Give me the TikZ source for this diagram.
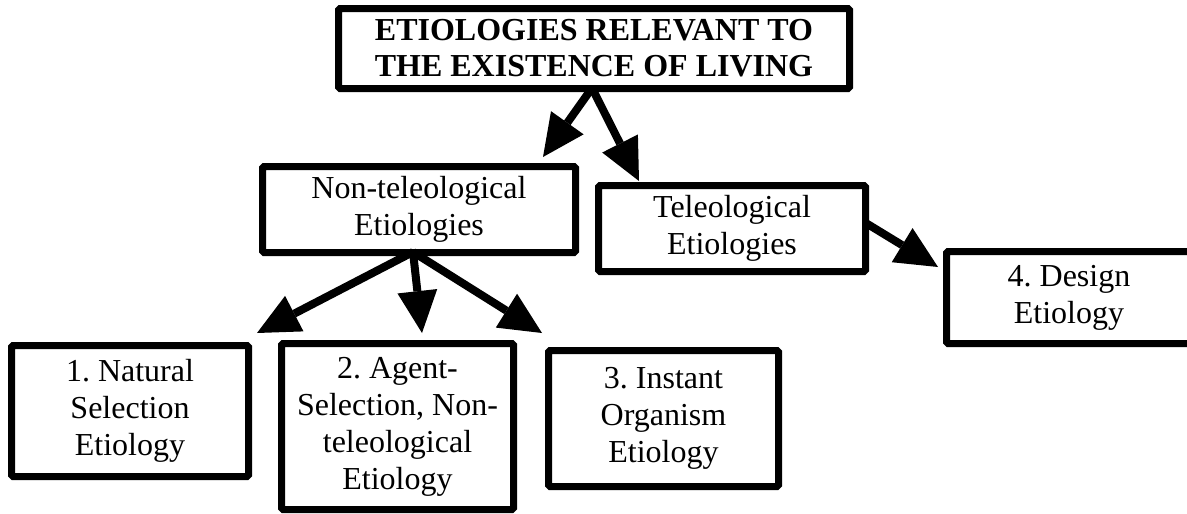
\documentclass[tikz,border=0pt]{standalone}
\usepackage{fontspec}
\setmainfont{Liberation Serif}
\usetikzlibrary{
  arrows.meta,
  positioning,
  calc
}
\definecolor{ink}{HTML}{000000}
\tikzset{
  base/.style={
    text=ink,
    font=\fontsize{32}{37}\selectfont\frenchspacing,
    align=center,
    inner sep=4pt,
  },
  etbox/.style={
    base,
    draw=ink,
    fill=white,
    line width=7pt,
    rounded corners=1.5pt,
    minimum width=#1,
  },
  etbox/.default=230pt,
  title/.style={
    etbox=511pt,
    font=\fontsize{32}{36}\selectfont\bfseries,
    minimum height=80pt,
  },
  flow/.style={
    -{Triangle[length=42pt, width=40pt, line width=0pt]},
    line width=8pt,
    draw=ink,
  },
}

\begin{document}
\begin{tikzpicture}[x=1pt, y=1pt]
\useasboundingbox (0,0) rectangle (1187,-514);

% === TOP: title ===

\node[title]
  (top) at (594,-48.5) {ETIOLOGIES RELEVANT TO\\THE EXISTENCE OF LIVING};

% === ROW 2: the two kinds ===

\node[etbox=313pt, minimum height=86pt, below=71pt of top, xshift=-175pt]
  (nontel) {Non-teleological\\Etiologies};

\node[etbox=267pt, minimum height=86pt, right=16pt of nontel, yshift=-19pt]
  (tel) {Teleological\\Etiologies};

\node[etbox=245pt, minimum height=92pt, right=74pt of tel, yshift=-69pt]
  (design) {4. Design\\Etiology};

% === ROW 3: non-teleological etiologies ===

\node[etbox=237pt, minimum height=131pt, below=86pt of nontel, xshift=-289pt]
  (natural) {1. Natural\\Selection\\Etiology};

\node[etbox=232pt, minimum height=166pt, right=26pt of natural, yshift=-15.5pt]
  (agent) {2. Agent-\\Selection, Non-\\teleological\\Etiology};

\node[etbox=230pt, minimum height=136pt, right=28pt of agent, yshift=8pt]
  (instant) {3. Instant\\Organism\\Etiology};

% Fan-out arrows from the title
\coordinate (tsplit) at ($(top.south)+(-2,4)$);
\draw[flow] (tsplit) -- ($(nontel.north east)+(-36,6)$);
\draw[flow] (tsplit) -- ($(tel.north west)+(44,1)$);

% Fan-out arrows from non-teleological
\coordinate (nsplit) at ($(nontel.south)+(-6,4)$);
\draw[flow] (nsplit) -- ($(natural.north east)+(5,9)$);
\draw[flow] (nsplit) -- ($(agent.north)+(24.5,7)$);
\draw[flow] (nsplit) -- ($(instant.north west)+(-3,14)$);

% Teleological -> Design
\draw[flow] ($(tel.east)+(-4,6)$) -- ($(design.north west)+(-5,-19)$);

\end{tikzpicture}
\end{document}
